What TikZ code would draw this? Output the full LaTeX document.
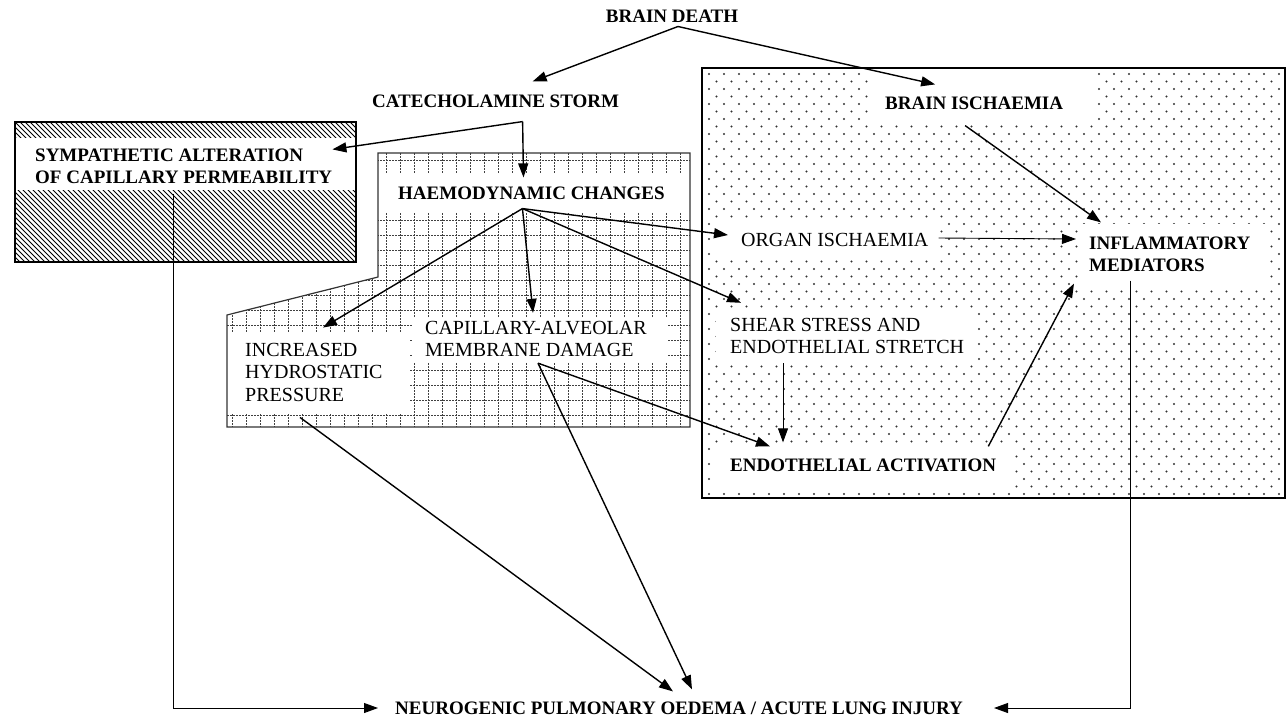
\documentclass[tikz,border=0pt]{standalone}
\usepackage{fontspec}
\setmainfont{Liberation Serif}
\usetikzlibrary{arrows.meta}
\usetikzlibrary{positioning}
\tikzset{
  lbl/.style = {inner sep = 0, align = left, font = \fontsize{19}{22}\selectfont\bfseries},
  lblr/.style = {inner sep = 0, align = left, font = \fontsize{20}{22.5}\selectfont},
  arr/.style = {line width = 1.4pt, -{Triangle[length = 14pt, width = 10pt]}},
  arrthin/.style = {line width = 0.9pt, -{Triangle[length = 14pt, width = 10pt]}},
  gridline/.style = {black!75, line width = 0.8pt, dash pattern = on 1.5pt off 1.5pt},
  dot/.style = {fill = black!80},
}

\begin{document}
\begin{tikzpicture}[x = 1pt, y = -1pt]
  \useasboundingbox (0, 0) rectangle (1288, 720);
  % hatched box
  \begin{scope}
    \clip (15, 122) rectangle (356, 262);
    \foreach \x in {-130, -125, ..., 356}
      \draw [line width = 0.8pt] (\x, 122) -- ++(140, 140);
  \end{scope}
  \fill [white] (15, 138) rectangle (356, 190);
  \draw [line width = 1.6pt] (15, 122) rectangle (356, 262);
  % grid area
  \begin{scope}
    \clip (378, 153) -- (690, 153) -- (690, 427) -- (227, 427) -- (227, 315) -- (378, 277) -- cycle;
    \foreach \x in {232, 246, ..., 690}
      \draw [gridline] (\x, 153) -- (\x, 427);
    \foreach \y in {160, 175, ..., 427}
      \draw [gridline] (227, \y) -- (690, \y);
  \end{scope}
  \fill [white] (378, 173) rectangle (690, 213);
  \fill [white] (227, 333) rectangle (410, 414);
  \fill [white] (412, 318) rectangle (668, 363);
  \draw [black!80, line width = 1.2pt] (378, 153) -- (690, 153) -- (690, 427) -- (227, 427) -- (227, 315) -- (378, 277) -- cycle;
  % dotted box
  \begin{scope}
    \clip (702, 68) rectangle (1285, 498);
    \foreach \y in {74, 89, ..., 494}
      \foreach \x in {709, 724, ..., 1284} {
        \fill [dot] (\x, \y) circle [radius = 1.2pt];
        \fill [dot] (\x + 7.5, \y + 7.5) circle [radius = 1.2pt];
      }
  \end{scope}
  \fill [white] (868, 68) rectangle (1097, 124);
  \fill [white] (712, 222) rectangle (940, 258);
  \fill [white] (1080, 224) rectangle (1268, 286);
  \fill [white] (716, 310) rectangle (975, 362);
  \fill [white] (712, 444) rectangle (1015, 490);
  \draw [line width = 1.4pt] (702, 68) rectangle (1285, 498);

  \node [lbl] (death) at (672, 16) {BRAIN DEATH};
  \node [lbl, anchor = west] (cat) at (372, 101) {CATECHOLAMINE STORM};
  \node [lbl, anchor = west] (sym) at (35, 166) {SYMPATHETIC ALTERATION\\OF CAPILLARY PERMEABILITY};
  \node [lbl, anchor = west] (hae) at (398, 193) {HAEMODYNAMIC CHANGES};
  \node [lblr, anchor = west] (inc) at (245, 372) {INCREASED\\HYDROSTATIC\\PRESSURE};
  \node [lblr, anchor = west] (cap) at (425, 339) {CAPILLARY-ALVEOLAR\\MEMBRANE DAMAGE};
  \node [lblr, anchor = west] (organ) at (741, 240) {ORGAN ISCHAEMIA};
  \node [lbl, anchor = west] (bisch) at (885, 103) {BRAIN ISCHAEMIA};
  \node [lbl, anchor = west] (infl) at (1089, 254) {INFLAMMATORY\\MEDIATORS};
  \node [lblr, anchor = west] (shear) at (730, 336) {SHEAR STRESS AND\\ENDOTHELIAL STRETCH};
  \node [lbl, anchor = west] (endo) at (730, 465) {ENDOTHELIAL ACTIVATION};
  \node [lbl, anchor = west] (neuro) at (395, 708) {NEUROGENIC PULMONARY OEDEMA / ACUTE LUNG INJURY};

  \coordinate (deathfork) at ([xshift = 6pt, yshift = -4pt] death.south);
  \coordinate (catfork) at ([xshift = 27pt, yshift = -14pt] cat.south);
  \coordinate (haefork) at ([xshift = -9pt, yshift = -9pt] hae.south);
  \coordinate (capfork) at ([xshift = 113pt, yshift = -6pt] cap.south west);

  \draw [arr] (deathfork) -- ([xshift = 37pt, yshift = 13pt] cat.north);
  \draw [arr] (deathfork) -- ([xshift = -39pt, yshift = 12pt] bisch.north);
  \draw [arr] (catfork) -- ([yshift = -1pt] sym.north east);
  \draw [arr] (catfork) -- ([xshift = -8pt, yshift = 9pt] hae.north);
  \draw [arr] (haefork) -- ([xshift = 78pt, yshift = 15pt] inc.north west);
  \draw [arr] (haefork) -- ([xshift = 108pt, yshift = 8pt] cap.north west);
  \draw [arr] (haefork) -- ([xshift = -13pt, yshift = 5pt] organ.west);
  \draw [arr] (haefork) -- ([xshift = 11pt, yshift = 15pt] shear.north west);
  \draw [arr] ([xshift = -9pt, yshift = -16pt] bisch.south) -- ([xshift = 12pt, yshift = 14pt] infl.north west);
  \draw [arrthin] ([xshift = 10pt, yshift = 2pt] organ.east) -- ([xshift = -13pt, yshift = 15pt] infl.west);
  \draw [arrthin] ([xshift = 53pt, yshift = -9pt] shear.south west) -- ([xshift = 53pt, yshift = 16pt] endo.north west);
  \draw [arr] (capfork) -- ([xshift = 40pt, yshift = 12pt] endo.north west);
  \draw [arr] ([xshift = -8pt, yshift = 12pt] endo.north east) -- ([xshift = -15pt, yshift = -12pt] infl.south west);
  \draw [arr] ([xshift = 55pt, yshift = -16pt] inc.south west) -- ([xshift = 278pt, yshift = 10pt] neuro.north west);
  \draw [arr] (capfork) -- ([xshift = 297pt, yshift = 12pt] neuro.north west);
  \draw [arrthin] ([xshift = 138pt, yshift = -10pt] sym.south west) |- ([xshift = -17pt] neuro.west);
  \draw [arrthin] ([xshift = 41pt, yshift = -9pt] infl.south west) |- ([xshift = 31pt] neuro.east);
\end{tikzpicture}
\end{document}
